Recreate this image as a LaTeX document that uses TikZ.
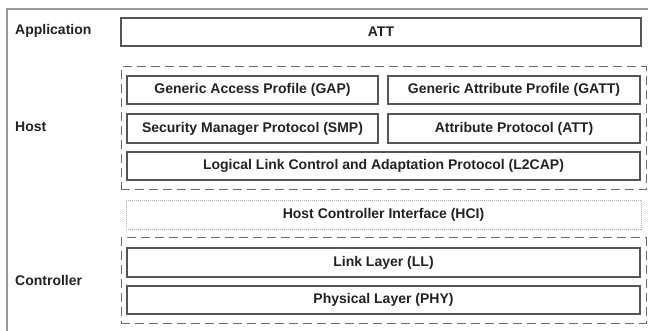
\documentclass[tikz,border=0pt]{standalone}
\usepackage{fontspec}
\setmainfont{Liberation Sans}
\usepackage{xcolor}
\definecolor{fg}{HTML}{222222}
\definecolor{edge}{HTML}{555555}
\definecolor{dash}{HTML}{6A6A6A}
\definecolor{frame}{HTML}{999999}
\definecolor{dots}{HTML}{AAAAAA}

\tikzset{
  layerbox/.style={draw=edge,line width=1.2pt,inner sep=0pt,text=fg,
    font=\fontsize{14}{16}\selectfont\bfseries},
  groupbox/.style={draw=dash,line width=1pt,dash pattern=on 9pt off 5pt,inner sep=0pt},
  hcibox/.style={layerbox,draw=dots,line width=0.8pt,dash pattern=on 1pt off 1pt},
  sidelabel/.style={anchor=west,inner sep=0pt,text=fg,
    font=\fontsize{14}{16}\selectfont\bfseries}
}

\begin{document}
\begin{tikzpicture}[x=1pt,y=-1pt]
  \useasboundingbox (0,0) rectangle (648,331);
  \clip (0,0) rectangle (648,331);
  \draw[frame,line width=1.5pt] (660,9) -- (7,9) -- (7,345);

  % side labels
  \node[sidelabel] (lapp) at (15,31) {Application};
  \node[sidelabel] (lhost) at (15,127) {Host};
  \node[sidelabel] (lctrl) at (15,280) {Controller};

  % application
  \node[layerbox,minimum width=520,minimum height=28] (att) at (381,32) {ATT};

  % host
  \node[groupbox,minimum width=525,minimum height=123] (host) at (383.5,128.5) {};
  \node[layerbox,minimum width=251,minimum height=28] (gap) at (252.5,90) {Generic Access Profile (GAP)};
  \node[layerbox,minimum width=252,minimum height=28] (gatt) at (514,90) {Generic Attribute Profile (GATT)};
  \node[layerbox,minimum width=251,minimum height=29] (smp) at (252.5,128.5) {Security Manager Protocol (SMP)};
  \node[layerbox,minimum width=252,minimum height=29] (attp) at (514,128.5) {Attribute Protocol (ATT)};
  \node[layerbox,minimum width=513,minimum height=28] (l2cap) at (383.5,166) {Logical Link Control and Adaptation Protocol (L2CAP)};

  % interface
  \node[hcibox,minimum width=515,minimum height=29] (hci) at (383.5,214.5) {Host Controller Interface (HCI)};

  % controller
  \node[groupbox,minimum width=525,minimum height=85] (ctrl) at (383.5,280.5) {};
  \node[layerbox,minimum width=513,minimum height=29] (ll) at (383.5,262.5) {Link Layer (LL)};
  \node[layerbox,minimum width=513,minimum height=28] (phy) at (383.5,300) {Physical Layer (PHY)};
\end{tikzpicture}
\end{document}
